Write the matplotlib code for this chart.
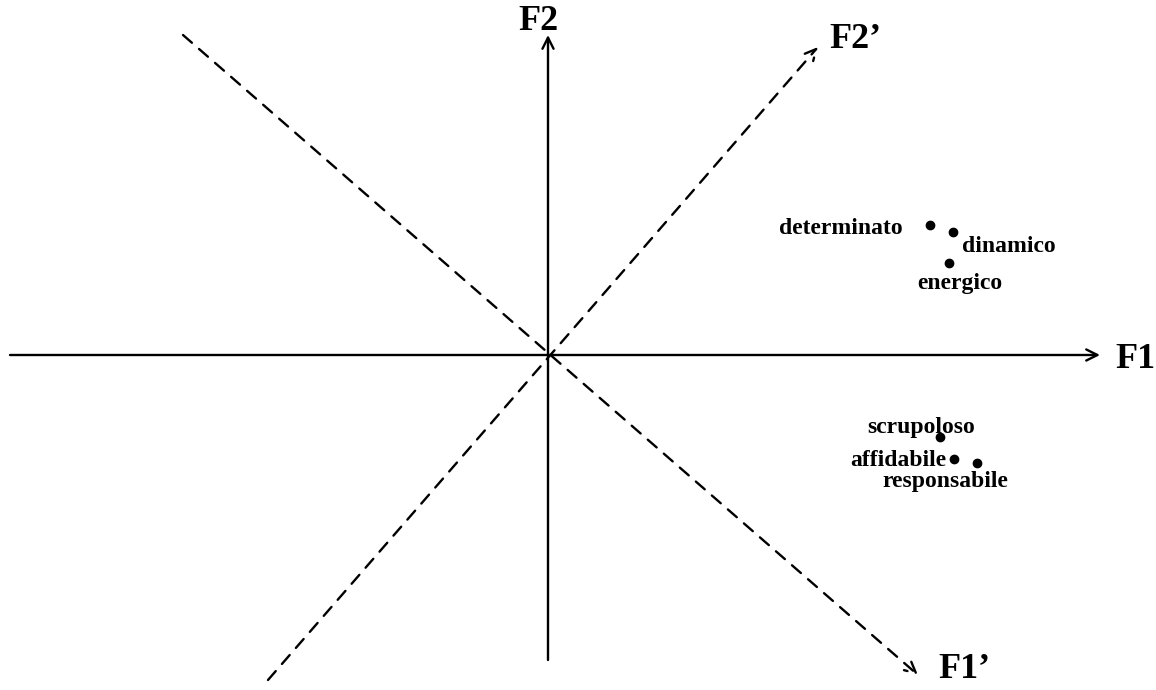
import matplotlib
matplotlib.use("Agg")
import matplotlib.pyplot as plt

# Coordinates relative to origin (F1 right, F2 up), in chart units
words = ["determinato", "dinamico", "energico", "scrupoloso", "affidabile", "responsabile"]
f1 = [382, 405, 401, 392, 406, 429]
f2 = [130, 123, 92, -82, -104, -108]
# label anchor positions
label_pos = [(355, 127), (414, 108), (412, 72), (373, -72), (398, -105), (397, -127)]
label_ha = ["right", "left", "center", "center", "right", "center"]

# axes extents
f1_axis = (-538, 552)
f2_axis = (-305, 320)
f1p_axis = ((-365, 320), (370, -320))   # rotated F1'
f2p_axis = ((-280, -325), (270, 308))   # rotated F2'

fig = plt.figure(figsize=(11.56, 6.9), dpi=100)
ax = fig.add_axes([0, 0, 1, 1])
ax.set_xlim(-548, 608)
ax.set_ylim(-335, 355)
ax.axis("off")

font = dict(family=["Liberation Serif", "DejaVu Serif"], weight="bold")

arrow_solid = dict(arrowstyle="->,head_length=0.8,head_width=0.4", lw=1.7, color="black",
                   shrinkA=0, shrinkB=0)
ax.annotate("", xy=(f1_axis[1], 0), xytext=(f1_axis[0], 0), arrowprops=arrow_solid)
ax.annotate("", xy=(0, f2_axis[1]), xytext=(0, f2_axis[0]), arrowprops=arrow_solid)

arrow_dash = dict(arrowstyle="->,head_length=0.8,head_width=0.4", lw=1.7, color="black",
                  shrinkA=0, shrinkB=0, linestyle=(0, (5, 4)))
ax.annotate("", xy=f1p_axis[1], xytext=f1p_axis[0], arrowprops=arrow_dash)
ax.annotate("", xy=f2p_axis[1], xytext=f2p_axis[0], arrowprops=arrow_dash)

ax.text(f1_axis[1] + 15, -5, "F1", fontsize=26, ha="left", va="center", **font)
ax.text(-10, 333, "F2", fontsize=26, ha="center", va="center", **font)
ax.text(f2p_axis[1][0] + 11, 315, "F2\u2019", fontsize=26, ha="left", va="center", **font)
ax.text(f1p_axis[1][0] + 20, -315, "F1\u2019", fontsize=26, ha="left", va="center", **font)

ax.plot(f1, f2, "o", color="black", markersize=6, linestyle="none")
for w, (lx, ly), ha in zip(words, label_pos, label_ha):
    ax.text(lx, ly, w, fontsize=17, ha=ha, va="center", **font)

fig.savefig("out.png", dpi=100)
